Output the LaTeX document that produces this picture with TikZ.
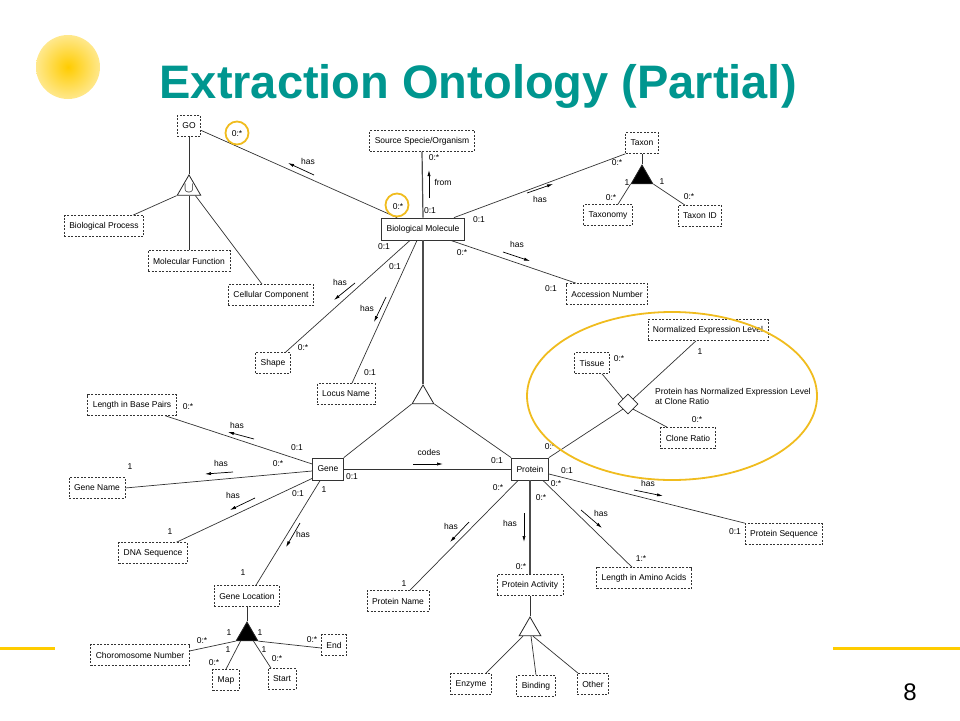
\documentclass[tikz,border=0pt]{standalone}
\usepackage{fontspec}
\setmainfont{Liberation Sans}
\usetikzlibrary{arrows.meta,shapes.geometric}
\definecolor{titleteal}{RGB}{0,150,143}
\definecolor{sunyellow}{RGB}{255,204,0}
\definecolor{ringgold}{RGB}{240,188,30}
\newcommand{\diafont}{\fontsize{8.5}{10}\selectfont}
\tikzset{
	attr/.style={draw=black!80, dash pattern=on 2pt off 1.5pt, line width=0.7pt, inner xsep=5pt, inner ysep=0pt, minimum height=21pt, font=\diafont},
	ent/.style={draw=black!80, line width=0.8pt, inner xsep=5pt, inner ysep=0pt, minimum height=22pt, font=\diafont},
	card/.style={inner sep=0pt, font=\diafont},
	rel/.style={draw=black!80, line width=0.7pt},
	thickrel/.style={draw=black!70, line width=1.2pt},
	hasarr/.style={-{Latex[length=6pt,width=3.2pt]}, line width=0.7pt},
	gen/.style={regular polygon, regular polygon sides=3, draw=black!85, line width=0.8pt, inner sep=0pt, minimum size=25pt},
	ring/.style={draw=ringgold, line width=1.8pt}
}

\begin{document}
\begin{tikzpicture}[x=1pt, y=-1pt]
			%%%%% START %%%%%
			\useasboundingbox (0,0) rectangle (960,720);
			
			\shade[inner color=sunyellow, outer color=sunyellow!45] (68,67) circle (32);
			\node[anchor=base west, font=\fontsize{47}{52}\selectfont\bfseries, text=titleteal] (title) at (156,98) {Extraction Ontology (Partial)};
			\draw[sunyellow, line width=3pt] (0,648) -- (55,648);
			\draw[sunyellow, line width=3pt] (833,648) -- (960,648);
			\node[font=\fontsize{24}{26}\selectfont] (pagenum) at (910,692) {8};
			
			% GO
			\node[attr] (go) at (189,126) {GO};
			\node[gen, font=\fontsize{14}{14}\selectfont] (gotri) at (189,188.5) {$\cup$};
			\node[attr] (bp) at (104,226) {Biological Process};
			\node[attr] (mf) at (189,261) {Molecular Function};
			\node[attr] (cc) at (271,295) {Cellular Component};
			\draw[rel] (go.south) -- (gotri.corner 1);
			\draw[rel] (gotri.corner 2) -- ([xshift=29pt]bp.north);
			\draw[rel] (gotri.side 2) -- (mf.north);
			\draw[rel] ([xshift=-6pt]gotri.corner 3) -- ([xshift=-9pt]cc.north);
			
			% Biological Molecule
			\node[ent] (bm) at (423,229) {Biological Molecule};
			\node[attr] (src) at (422,141) {Source Specie/Organism};
			\node[attr] (taxon) at (642,143) {Taxon};
			\node[gen, fill=black] (taxtri) at (642,177.5) {};
			\node[attr] (taxonomy) at (608,215) {Taxonomy};
			\node[attr] (taxid) at (700,216) {Taxon ID};
			\node[attr] (acc) at (607,294) {Accession Number};
			\node[attr] (shape) at (273,363) {Shape};
			\node[attr] (locus) at (346,394) {Locus Name};
			\node[gen] (bmtri) at (423,397.5) {};
			
			\draw[rel] (go.-20) -- ([xshift=-26pt]bm.north);
			\draw[thickrel] (src.south) -- (bm.north);
			\draw[rel] ([xshift=31pt]bm.north) -- (taxon.south west);
			\draw[rel] (taxon.south) -- (taxtri.corner 1);
			\draw[rel] (taxtri.corner 2) -- ([xshift=10pt]taxonomy.north);
			\draw[rel] (taxtri.corner 3) -- ([xshift=-15pt]taxid.north);
			\draw[rel] ([xshift=-14pt]bm.south east) -- ([xshift=10pt]acc.north west);
			\draw[rel] ([xshift=-13pt]bm.south) -- ([xshift=-5pt]shape.north east);
			\draw[rel] ([xshift=-6pt]bm.south) -- ([xshift=6pt]locus.north);
			\draw[thickrel] (bm.south) -- (bmtri.corner 1);
			
			\node[card] (go-m) at (237,134) {0:*};
			\node[card] (go-has) at (308,161) {has};
			\draw[hasarr] (314,175) -- (288,163);
			\node[card] (bm-go-m) at (398,207) {0:*};
			\draw[ring] (237,133) circle (11.5);
			\draw[ring] (397,205) circle (11.5);
			\node[card] (src-m) at (434,158) {0:*};
			\node[card] (src-from) at (443,182) {from};
			\draw[hasarr] (429,198) -- (429,170);
			\node[card] (bm-src-m) at (430,211) {0:1};
			\node[card] (taxon-m) at (617,163) {0:*};
			\node[card] (bm-taxon-m) at (479,220) {0:1};
			\node[card] (taxon-has) at (540,199) {has};
			\draw[hasarr] (527,193) -- (553,184);
			\node[card] (taxtri-l1) at (627,183) {1};
			\node[card] (taxtri-r1) at (662,182) {1};
			\node[card] (taxonomy-m) at (611,198) {0:*};
			\node[card] (taxid-m) at (689,197) {0:*};
			\node[card] (bm-acc-m) at (462,253) {0:*};
			\node[card] (acc-m) at (551,289) {0:1};
			\node[card] (acc-has) at (517,244) {has};
			\draw[hasarr] (503,252) -- (530,261);
			\node[card] (bm-shape-m) at (384,247) {0:1};
			\node[card] (shape-m) at (303,348) {0:*};
			\node[card] (shape-has) at (340,282) {has};
			\draw[hasarr] (355,283) -- (334,300);
			\node[card] (bm-locus-m) at (395,267) {0:1};
			\node[card] (locus-m) at (370,373) {0:1};
			\node[card] (locus-has) at (367,308) {has};
			\draw[hasarr] (386,297) -- (374,322);
			
			% Gene
			\node[ent] (gene) at (328,469) {Gene};
			\node[ent] (protein) at (530,469) {Protein};
			\node[attr] (lbp) at (132,405) {Length in Base Pairs};
			\node[attr] (gname) at (97,488) {Gene Name};
			\node[attr] (dna) at (153,553) {DNA Sequence};
			\node[attr] (gloc) at (247,596) {Gene Location};
			\node[gen, fill=black] (loctri) at (247,634.5) {};
			\node[attr] (chrom) at (140,655) {Choromosome Number};
			\node[attr] (endn) at (334,645) {End};
			\node[attr] (map) at (226,680) {Map};
			\node[attr] (start) at (282,679) {Start};
			
			\draw[rel] (bmtri.corner 2) -- (gene.north east);
			\draw[rel] (bmtri.corner 3) -- (protein.north west);
			\draw[rel] (gene.east) -- (protein.west);
			\draw[rel] ([xshift=-11pt]lbp.south east) -- ([yshift=5pt]gene.west);
			\draw[rel] (gname.east) -- ([yshift=-2pt]gene.west);
			\draw[rel] ([xshift=-11pt]dna.north east) -- ([yshift=2pt]gene.south west);
			\draw[rel] ([xshift=8pt]gene.south west) -- ([xshift=9pt]gloc.north);
			\draw[rel] (gloc.south) -- (loctri.corner 1);
			\draw[rel] (loctri.corner 2) -- ([yshift=4pt]chrom.east);
			\draw[rel] (loctri.corner 3) -- ([yshift=-3pt]endn.west);
			\draw[rel] ([xshift=5pt]loctri.corner 2) -- (map.north);
			\draw[rel] ([xshift=-5pt]loctri.corner 3) -- ([xshift=-11pt]start.north);
			
			\node[card] (gene-codes-m) at (352,477) {0:1};
			\node[card] (protein-codes-m) at (497,461) {0:1};
			\node[card] (codes) at (429,452) {codes};
			\draw[hasarr] (413,464) -- (443,464);
			\node[card] (lbp-m) at (188,407) {0:*};
			\node[card] (gene-lbp-m) at (297,448) {0:1};
			\node[card] (lbp-has) at (237,425) {has};
			\draw[hasarr] (254,439) -- (228,432);
			\node[card] (gname-m) at (130,467) {1};
			\node[card] (gene-gname-m) at (278,464) {0:*};
			\node[card] (gname-has) at (221,463) {has};
			\draw[hasarr] (233,472) -- (205,474);
			\node[card] (dna-m) at (170,532) {1};
			\node[card] (gene-dna-m) at (298,494) {0:1};
			\node[card] (dna-has) at (233,495) {has};
			\draw[hasarr] (255,498) -- (230,510);
			\node[card] (gene-gloc-m) at (324,490) {1};
			\node[card] (gloc-m) at (243,573) {1};
			\node[card] (gloc-has) at (303,534) {has};
			\draw[hasarr] (300,523) -- (286,547);
			\node[card] (chrom-m) at (202,641) {0:*};
			\node[card] (chrom-1) at (229,633) {1};
			\node[card] (endn-m) at (312,640) {0:*};
			\node[card] (endn-1) at (260,633) {1};
			\node[card] (map-1) at (228,650) {1};
			\node[card] (map-m) at (214,663) {0:*};
			\node[card] (start-1) at (264,650) {1};
			\node[card] (start-m) at (277,659) {0:*};
			
			% Protein
			\node[attr] (pname) at (398,601) {Protein Name};
			\node[attr] (pact) at (530,585) {Protein Activity};
			\node[gen] (acttri) at (530,629.5) {};
			\node[attr] (enzyme) at (471,684) {Enzyme};
			\node[attr] (binding) at (536,686) {Binding};
			\node[attr] (other) at (593,684) {Other};
			\node[attr] (laa) at (644,578) {Length in Amino Acids};
			\node[attr] (pseq) at (784,534) {Protein Sequence};
			
			\draw[rel] ([xshift=7pt]protein.south west) -- ([xshift=12pt]pname.north);
			\draw[thickrel] (protein.south) -- (pact.north);
			\draw[rel] (pact.south) -- (acttri.corner 1);
			\draw[rel] ([xshift=-7pt]acttri.side 2) -- ([xshift=15pt]enzyme.north);
			\draw[rel] ([xshift=1pt]acttri.side 2) -- (binding.north);
			\draw[rel] ([xshift=3pt]acttri.side 2) -- ([xshift=-15pt]other.north);
			\draw[rel] ([xshift=-6pt]protein.south east) -- ([xshift=-12pt]laa.north);
			\draw[rel] ([yshift=-5pt]protein.east) -- (pseq.north west);
			
			\node[card] (protein-pname-m) at (498,488) {0:*};
			\node[card] (pname-m) at (404,584) {1};
			\node[card] (pname-has) at (451,526) {has};
			\draw[hasarr] (469,522) -- (450,542);
			\node[card] (protein-pact-m) at (541,498) {0:*};
			\node[card] (pact-m) at (521,567) {0:*};
			\node[card] (pact-has) at (510,523) {has};
			\draw[hasarr] (524,513) -- (524,542);
			\node[card] (protein-laa-m) at (556,484) {0:*};
			\node[card] (laa-m) at (641,559) {1:*};
			\node[card] (laa-has) at (601,513) {has};
			\draw[hasarr] (581,510) -- (602,528);
			\node[card] (protein-pseq-m) at (567,471) {0:1};
			\node[card] (pseq-m) at (735,532) {0:1};
			\node[card] (pseq-has) at (648,483) {has};
			\draw[hasarr] (634,490) -- (663,496);
			
			% ternary relation
			\node[diamond, draw=black!85, line width=0.8pt, inner sep=0pt, minimum width=20pt, minimum height=20pt] (dia) at (628,404) {};
			\node[attr] (nel) at (708,330) {Normalized Expression Level};
			\node[attr] (tissue) at (592,363) {Tissue};
			\node[attr] (clone) at (688,438) {Clone Ratio};
			\node[card, anchor=west, align=left] (dia-text) at (655,396) {Protein has Normalized Expression Level\\at Clone Ratio};
			
			\draw[rel] (protein.north east) -- (dia.south west);
			\draw[rel] (dia.north east) -- ([xshift=-12pt]nel.south);
			\draw[rel] ([xshift=10pt]tissue.south) -- (dia.north west);
			\draw[rel] (dia.south east) -- ([xshift=-21pt]clone.north);
			
			\node[card] (nel-m) at (700,352) {1};
			\node[card] (tissue-m) at (619,359) {0:*};
			\node[card] (clone-m) at (697,420) {0:*};
			\node[card] (protein-dia-m) at (550,447) {0:*};
			\draw[ring] (672,396) ellipse [x radius=145, y radius=84];
			
			%%%%% END %%%%%
\end{tikzpicture}
\end{document}
